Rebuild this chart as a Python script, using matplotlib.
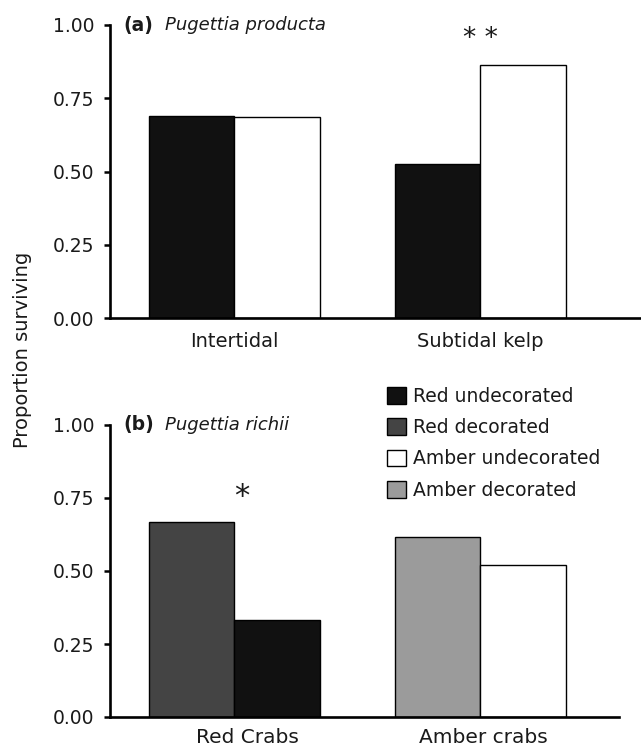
import matplotlib
matplotlib.use("Agg")
import matplotlib.pyplot as plt
from matplotlib.patches import Patch

# ---- data ----
categories_a = ["Intertidal", "Subtidal kelp"]
red_undecorated_a = [0.69, 0.527]
amber_undecorated_a = [0.685, 0.862]

categories_b = ["Red Crabs", "Amber crabs"]
decorated_b = [0.668, 0.616]      # red decorated, amber decorated
undecorated_b = [0.332, 0.520]    # red undecorated, amber undecorated

legend_labels = ["Red undecorated", "Red decorated", "Amber undecorated", "Amber decorated"]
yticks = [0.0, 0.25, 0.5, 0.75, 1.0]
ytick_labels = ["0.00", "0.25", "0.50", "0.75", "1.00"]

# ---- style ----
C_RED_UND = "#111111"
C_RED_DEC = "#444444"
C_AMB_UND = "#ffffff"
C_AMB_DEC = "#9b9b9b"
TXT = "#1a1a1a"
plt.rcParams["font.family"] = ["DejaVu Sans"]

W, H = 641, 754
fig = plt.figure(figsize=(W / 100, H / 100), dpi=100)

def frac_rect(x0, y_top, x1, y_bot):
    return [x0 / W, 1 - y_bot / H, (x1 - x0) / W, (y_bot - y_top) / H]

ax_a = fig.add_axes(frac_rect(110, 25, 641, 318))
ax_b = fig.add_axes(frac_rect(110, 425, 619, 717))

centers = [1.24, 3.70]
bw = 0.855

def style_axis(ax, xmax, xlabel_size, xpad, tickpos):
    ax.set_xlim(0, xmax)
    ax.set_ylim(0, 1)
    for s in ["top", "right"]:
        ax.spines[s].set_visible(False)
    for s in ["left", "bottom"]:
        ax.spines[s].set_linewidth(1.9)
        ax.spines[s].set_zorder(5)
    ax.set_yticks(yticks)
    ax.set_yticklabels(ytick_labels, fontsize=13.5, color=TXT)
    ax.tick_params(axis="y", direction="out", length=4.5, width=1.8, pad=6.5)
    ax.tick_params(axis="x", length=0, pad=xpad, labelsize=xlabel_size, labelcolor=TXT)
    ax.set_xticks(tickpos)

# panel a
ax_a.bar([c - bw / 2 for c in centers], red_undecorated_a, width=bw, color=C_RED_UND,
         edgecolor="black", linewidth=1.0)
ax_a.bar([c + bw / 2 for c in centers], amber_undecorated_a, width=bw, color=C_AMB_UND,
         edgecolor="black", linewidth=1.0)
style_axis(ax_a, 5.31, 14, 10, centers)
ax_a.set_xticklabels(categories_a)

# panel b
ax_b.bar([c - bw / 2 for c in centers], decorated_b, width=bw, color=[C_RED_DEC, C_AMB_DEC],
         edgecolor="black", linewidth=1.0)
ax_b.bar([c + bw / 2 for c in centers], undecorated_b, width=bw, color=[C_RED_UND, C_AMB_UND],
         edgecolor="black", linewidth=1.0)
style_axis(ax_b, 5.09, 14.5, 8, [1.37, 3.73])
ax_b.set_xticklabels(categories_b)

# panel labels
ax_a.text(0.026, 1.0, "(a)", transform=ax_a.transAxes, fontsize=13.5, fontweight="bold",
          va="center", ha="left", color=TXT)
ax_a.text(0.1036, 1.0, "Pugettia producta", transform=ax_a.transAxes, fontsize=13,
          style="italic", va="center", ha="left", color=TXT)
ax_b.text(0.026, 1.0, "(b)", transform=ax_b.transAxes, fontsize=13.5, fontweight="bold",
          va="center", ha="left", color=TXT)
ax_b.text(0.108, 1.0, "Pugettia richii", transform=ax_b.transAxes, fontsize=13,
          style="italic", va="center", ha="left", color=TXT)

# significance stars
ax_a.text(3.70, 0.93, "* *", fontsize=19, ha="center", va="baseline", color=TXT)
ax_b.text(1.32, 0.725, "*", fontsize=22, ha="center", va="baseline", color=TXT)

# y label
fig.text(23 / W, 1 - 350 / H, "Proportion surviving", rotation=90, fontsize=14,
         ha="center", va="center", color=TXT)

# legend
handles = [Patch(facecolor=c, edgecolor="black", linewidth=1.0)
           for c in [C_RED_UND, C_RED_DEC, C_AMB_UND, C_AMB_DEC]]
fig.legend(handles, legend_labels, loc="upper left",
           bbox_to_anchor=(387 / W, 1 - 387 / H), frameon=False, fontsize=13.5,
           handlelength=1.0, handleheight=1.0, handletextpad=0.4, labelspacing=0.65,
           borderpad=0, borderaxespad=0, labelcolor=TXT)

fig.savefig("out.png", dpi=100)
